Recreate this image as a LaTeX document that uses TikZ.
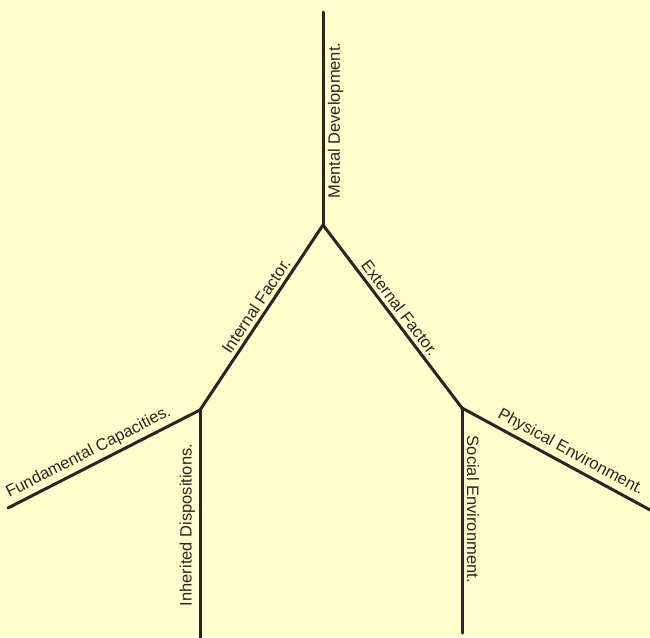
\documentclass[tikz,border=0pt]{standalone}
\usepackage{fontspec}
\setmainfont{Liberation Sans}
\definecolor{paper}{RGB}{254,254,204}
\definecolor{ink}{RGB}{40,38,36}

\begin{document}
\begin{tikzpicture}[x=1pt,y=-1pt,line width=3pt,line cap=round,
  lbl/.style={sloped,font=\fontsize{16.5}{18}\selectfont,text=ink,inner sep=3.5pt}]
\fill[paper] (0,0) rectangle (650,637);
\useasboundingbox (0,0) rectangle (650,637);
\coordinate (top) at (323,12);
\coordinate (hub) at (323,225);
\coordinate (lfork) at (200,410);
\coordinate (rfork) at (462,408);
\coordinate (fund) at (8,508);
\coordinate (inher) at (200,640);
\coordinate (social) at (462,633);
\coordinate (phys) at (652,511);
\draw[ink] (hub) -- (top) node[lbl,below,pos=0.49] {Mental Development.};
\draw[ink] (lfork) -- (hub) node[lbl,above,pos=0.53] {Internal Factor.};
\draw[ink] (hub) -- (rfork) node[lbl,above,pos=0.49] {External Factor.};
\draw[ink] (fund) -- (lfork) node[lbl,above,pos=0.45] {Fundamental Capacities.};
\draw[ink] (inher) -- (lfork) node[lbl,above,pos=0.5] {Inherited Dispositions.};
\draw[ink] (rfork) -- (social) node[lbl,above,pos=0.45] {Social Environment.};
\draw[ink] (rfork) -- (phys) node[lbl,above,pos=0.54] {Physical Environment.};
\end{tikzpicture}
\end{document}
